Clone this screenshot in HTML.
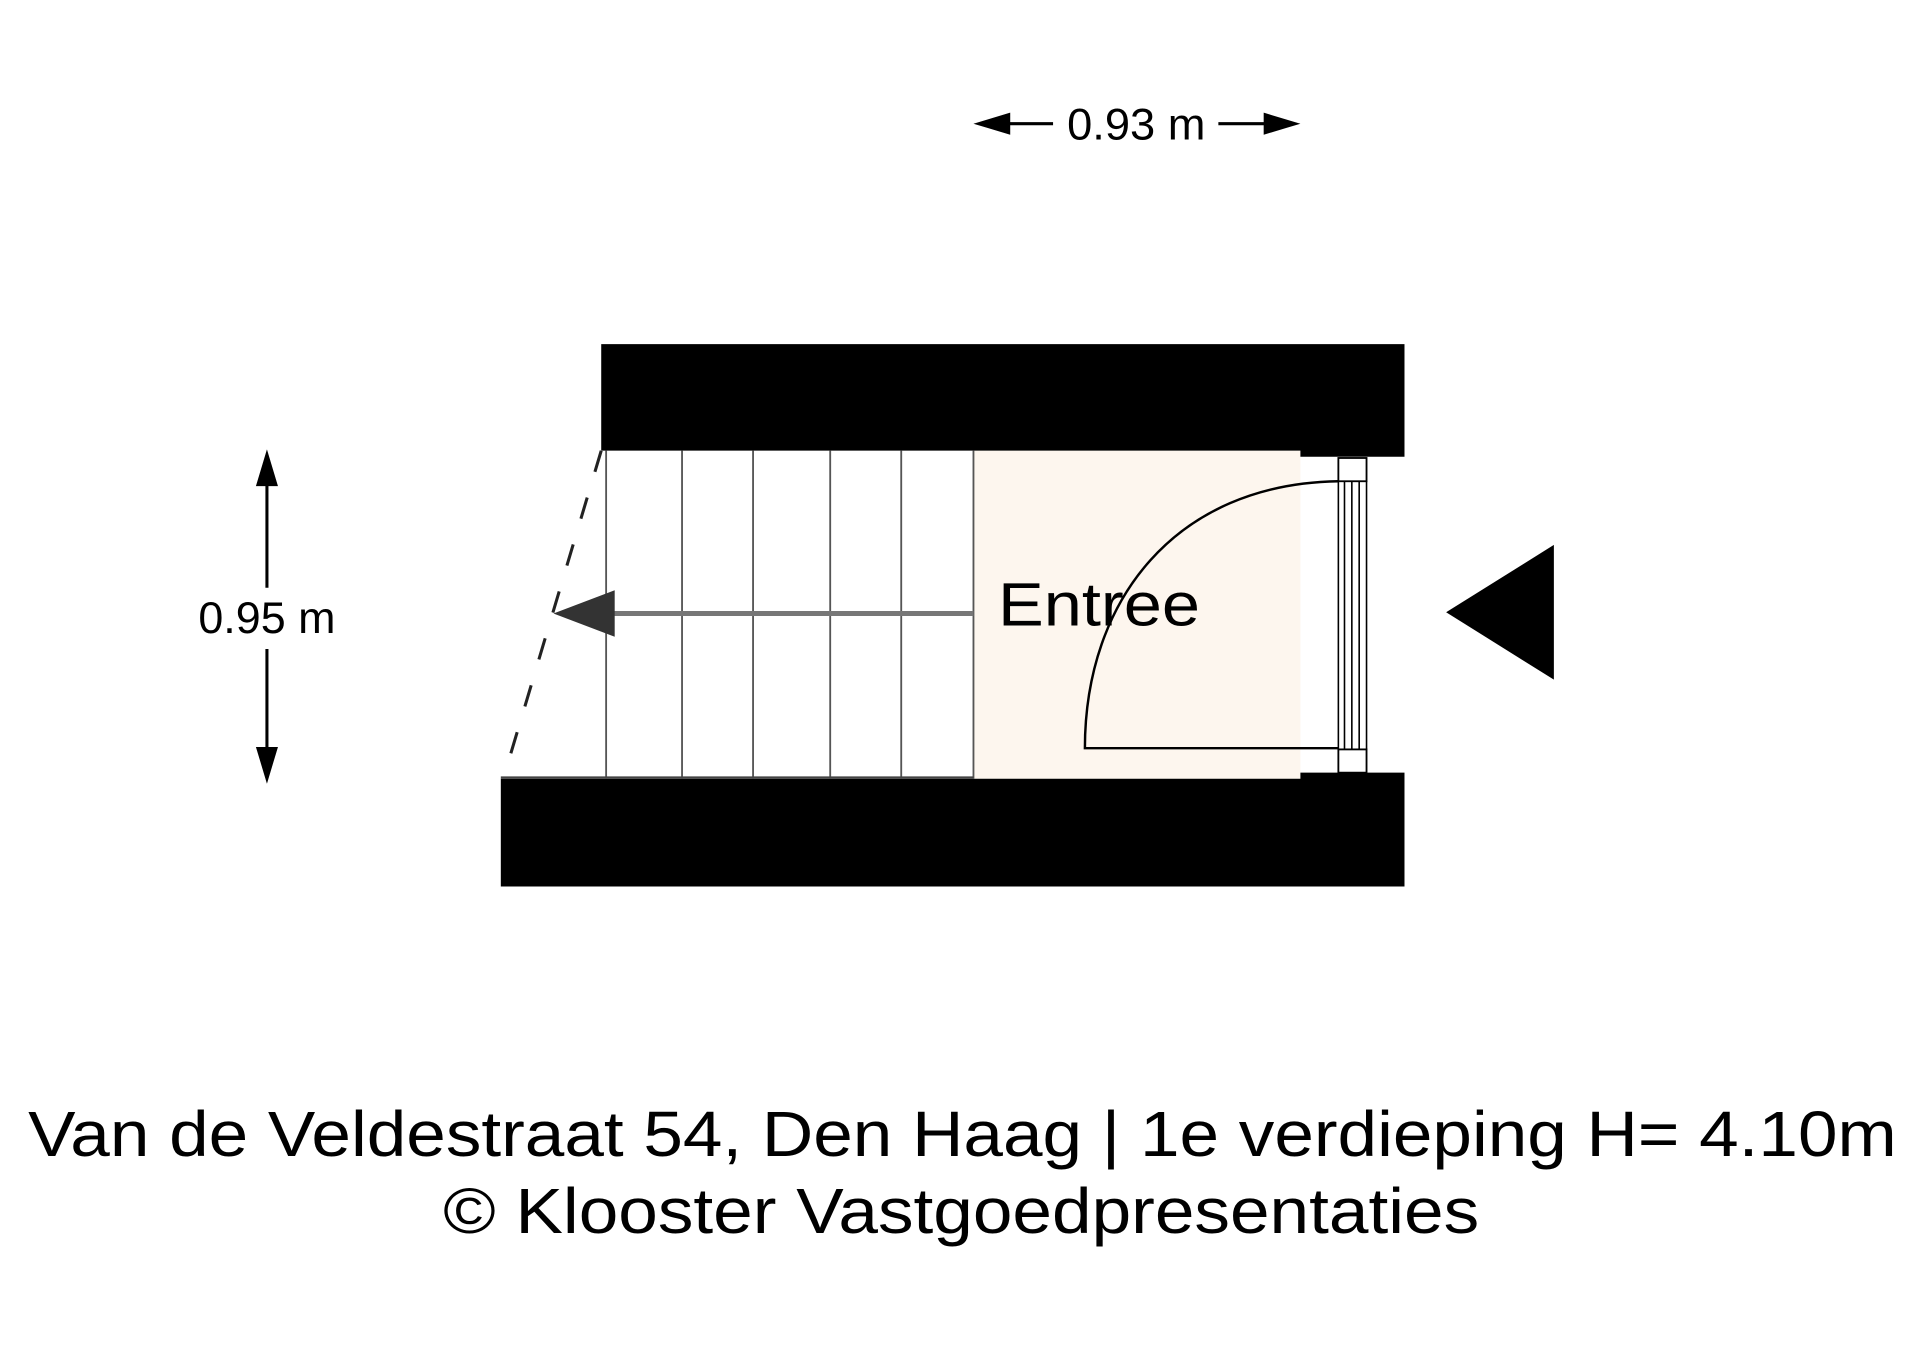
<!DOCTYPE html>
<html><head><meta charset="utf-8"><style>html,body{margin:0;padding:0;background:#fff}svg{display:block}</style></head>
<body>
<svg width="1920" height="1358" viewBox="0 0 1568 1109" xmlns="http://www.w3.org/2000/svg" font-family="Liberation Sans, Arial, sans-serif">
<rect width="1568" height="1109" fill="#fff"/>
<rect x="795" y="368" width="267" height="268" fill="#fdf6ee"/>
<path d="M491 281 H1147 V373 H1062 V368 H491 Z" fill="#000"/>
<path d="M409 636 H1062 V631 H1147 V724 H409 Z" fill="#000"/>
<g stroke="#555" stroke-width="1.5">
<line x1="495" y1="368" x2="495" y2="636"/>
<line x1="557" y1="368" x2="557" y2="636"/>
<line x1="615" y1="368" x2="615" y2="636"/>
<line x1="678" y1="368" x2="678" y2="636"/>
<line x1="736" y1="368" x2="736" y2="636"/>
<line x1="795" y1="368" x2="795" y2="636"/>
</g>
<line x1="409" y1="635" x2="795" y2="635" stroke="#444" stroke-width="2"/>
<line x1="491" y1="368" x2="411" y2="636" stroke="#222" stroke-width="2.5" stroke-dasharray="18,22"/>
<line x1="795" y1="501" x2="495" y2="501" stroke="#777" stroke-width="4"/>
<polygon points="452,501 502,482 502,520" fill="#333"/>
<g stroke="#000" stroke-width="1.5" fill="#fff">
<rect x="1093" y="374" width="23" height="19"/>
<rect x="1093" y="612" width="23" height="19"/>
</g>
<g stroke="#000" stroke-width="1.3">
<line x1="1093" y1="393" x2="1093" y2="612"/>
<line x1="1098" y1="393" x2="1098" y2="612"/>
<line x1="1104" y1="393" x2="1104" y2="612"/>
<line x1="1110" y1="393" x2="1110" y2="612"/>
<line x1="1116" y1="393" x2="1116" y2="612"/>
</g>
<path d="M1093 611 H886 C886 490 960 395 1093 393" fill="none" stroke="#000" stroke-width="2"/>
<text x="815" y="511" font-size="50" textLength="165" lengthAdjust="spacingAndGlyphs">Entree</text>
<polygon points="1181,500 1269,445 1269,555" fill="#000"/>
<line x1="815" y1="101" x2="860" y2="101" stroke="#000" stroke-width="2.5"/>
<polygon points="795,101 825,92 825,110" fill="#000"/>
<line x1="995" y1="101" x2="1040" y2="101" stroke="#000" stroke-width="2.5"/>
<polygon points="1062,101 1032,92 1032,110" fill="#000"/>
<text x="928" y="114" font-size="36" text-anchor="middle" textLength="113" lengthAdjust="spacingAndGlyphs">0.93 m</text>
<line x1="218" y1="390" x2="218" y2="480" stroke="#000" stroke-width="2.5"/>
<polygon points="218,367 209,397 227,397" fill="#000"/>
<line x1="218" y1="530" x2="218" y2="618" stroke="#000" stroke-width="2.5"/>
<polygon points="218,640 209,610 227,610" fill="#000"/>
<text x="218" y="517" font-size="36" text-anchor="middle" textLength="112" lengthAdjust="spacingAndGlyphs">0.95 m</text>
<text x="786" y="944" font-size="52" text-anchor="middle" textLength="1526" lengthAdjust="spacingAndGlyphs">Van de Veldestraat 54, Den Haag | 1e verdieping H= 4.10m</text>
<text x="785" y="1007" font-size="52" text-anchor="middle" textLength="846" lengthAdjust="spacingAndGlyphs">© Klooster Vastgoedpresentaties</text>
</svg>
</body></html>
